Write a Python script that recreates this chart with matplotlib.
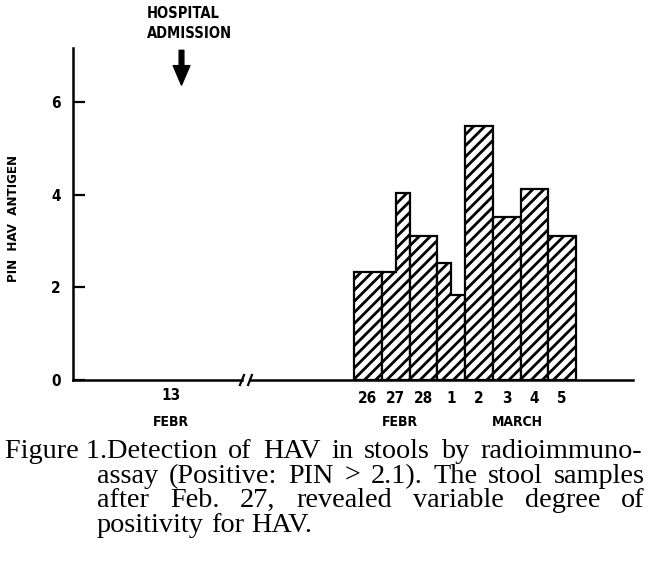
import matplotlib
matplotlib.use('Agg')
import matplotlib.pyplot as plt

# ---------------- data ----------------
days = ['26', '27', '28', '1', '2', '3', '4', '5']
pin_first_half = [2.33, 2.33, 3.10, 2.52, 5.47, 3.51, 4.12, 3.10]
pin_second_half = [2.33, 4.03, 3.10, 1.83, 5.47, 3.51, 4.12, 3.10]
y_ticks = [0, 2, 4, 6]
admission_day = 13
months = ['FEBR', 'MARCH']
caption_lines = [
    "Figure 1.Detection of HAV in stools by radioimmuno-",
    "assay (Positive: PIN > 2.1). The stool samples",
    "after Feb. 27, revealed variable degree of",
    "positivity for HAV.",
]

# ---------------- style ----------------
plt.rcParams['font.family'] = ['DejaVu Sans']
plt.rcParams['font.stretch'] = 'condensed'
plt.rcParams['font.weight'] = 'bold'
plt.rcParams['hatch.linewidth'] = 2.0
plt.rcParams['hatch.color'] = 'black'

W, H = 650, 566
fig = plt.figure(figsize=(W / 100, H / 100), dpi=100)


def px_axes(l, t, r, b):
    return fig.add_axes([l / W, 1 - b / H, (r - l) / W, (b - t) / H])


axL = px_axes(73, 48, 242, 380)
axR = px_axes(250, 48, 633, 380)
YMAX = 7.16
for ax in (axL, axR):
    ax.set_ylim(0, YMAX)
    ax.spines['top'].set_visible(False)
    ax.spines['right'].set_visible(False)
    ax.spines['bottom'].set_linewidth(1.8)
    ax.set_facecolor('none')

# left axes (broken part with admission)
axL.set_xlim(7.5, 17.0)
axL.spines['left'].set_linewidth(1.8)
axL.set_yticks(y_ticks)
axL.set_yticklabels([str(v) for v in y_ticks])
axL.tick_params(axis='y', direction='in', length=8.5, width=1.6, labelsize=11, pad=9)
axL.set_xticks([admission_day])
axL.set_xticklabels([str(admission_day)])
axL.tick_params(axis='x', length=0, labelsize=11, pad=6)

# right axes (bars)
axR.set_xlim(-4.25, 9.55)
axR.spines['left'].set_visible(False)
axR.set_yticks([])
axR.set_xticks(range(len(days)))
axR.set_xticklabels(days)
axR.tick_params(axis='x', length=0, labelsize=11, pad=8)

for i, (a, b) in enumerate(zip(pin_first_half, pin_second_half)):
    xs = [i - 0.5, i - 0.5, i, i, i + 0.5, i + 0.5]
    ys = [0, a, a, b, b, 0]
    axR.fill(xs, ys, facecolor='white', edgecolor='black', hatch='///',
             linewidth=1.6, zorder=2)

# axis break marks
axL.plot([1 - 0.012, 1 + 0.012], [-0.015, 0.015], transform=axL.transAxes,
         color='black', lw=1.6, clip_on=False)
axR.plot([-0.005, 0.005], [-0.015, 0.015], transform=axR.transAxes,
         color='black', lw=1.6, clip_on=False)

# month labels
ym = -(422 - 380) / 332
axL.text(admission_day, ym, 'FEBR', transform=axL.get_xaxis_transform(),
         ha='center', va='center', fontsize=10)
axR.text(1.15, ym, months[0], transform=axR.get_xaxis_transform(),
         ha='center', va='center', fontsize=10)
axR.text(5.4, ym, months[1], transform=axR.get_xaxis_transform(),
         ha='center', va='center', fontsize=10)

# admission arrow
axL.annotate('', xy=(13.6, 6.36), xytext=(13.6, 7.11),
             arrowprops=dict(facecolor='black', edgecolor='black', width=3.4,
                             headwidth=12, headlength=14, shrink=0),
             annotation_clip=False)
fig.text(147 / W, 1 - 18 / H, 'HOSPITAL', ha='left', va='baseline', fontsize=10.5)
fig.text(147 / W, 1 - 38 / H, 'ADMISSION', ha='left', va='baseline', fontsize=10.5)

# y label
fig.text(14 / W, 1 - 218 / H, 'PIN  HAV  ANTIGEN', rotation=90, ha='center',
         va='center', fontsize=9.5, family='DejaVu Sans', weight='bold')

# ---------------- caption (justified) ----------------
renderer = fig.canvas.get_renderer()
cap_font = dict(family=['Liberation Serif', 'DejaVu Serif'], weight='normal',
                stretch='normal', size=20.3)
baselines = [458, 483, 507, 532]
line_left = [5, 97, 97, 97]
line_right = [642, 645, 645, None]


def draw_line(text, left, right, base):
    words = text.split(' ')
    if words[0] == 'Figure':
        words = [words[0] + ' ' + words[1]] + words[2:]
    objs = [fig.text(0, 1 - base / H, w, ha='left', va='baseline', **cap_font) for w in words]
    widths = [o.get_window_extent(renderer).width for o in objs]
    if right is None:
        sp = fig.text(0, 0, 'a b', **cap_font)
        sp2 = fig.text(0, 0, 'ab', **cap_font)
        gap = sp.get_window_extent(renderer).width - sp2.get_window_extent(renderer).width
        sp.remove(); sp2.remove()
    else:
        gap = (right - left - sum(widths)) / max(len(words) - 1, 1)
    x = left
    for o, w in zip(objs, widths):
        o.set_x(x / W)
        x += w + gap


for txt, l, r, b in zip(caption_lines, line_left, line_right, baselines):
    draw_line(txt, l, r, b)

fig.savefig('out.png', dpi=100, facecolor='white')
